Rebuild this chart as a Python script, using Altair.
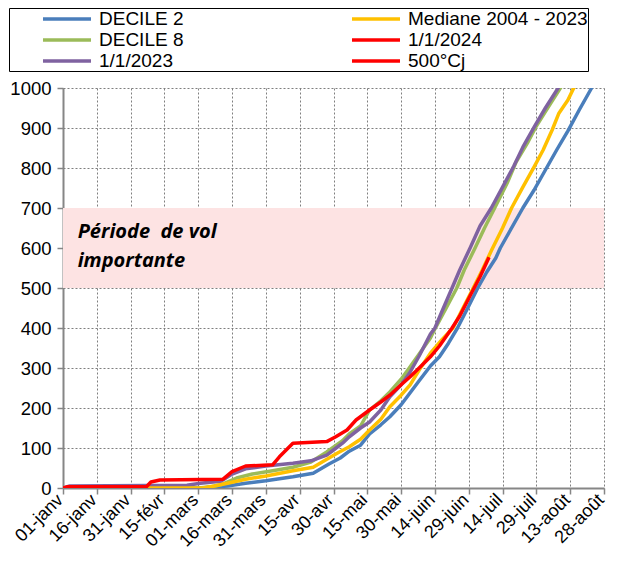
import altair as alt
import pandas as pd

# ---- tick labels (day of year, 2024) ----
tick_days = list(range(0, 241, 15))
tick_labels = ["01-janv", "16-janv", "31-janv", "15-févr", "01-mars", "16-mars",
               "31-mars", "15-avr", "30-avr", "15-mai", "30-mai", "14-juin",
               "29-juin", "14-juil", "29-juil", "13-août", "28-août"]
y_ticks = list(range(0, 1001, 100))

# ---- series (day index, cumulated degree-days) ----
blue_days = [0, 62, 68, 73, 81, 90, 102, 111, 118, 123, 127, 132, 136, 141, 145, 150, 154,
             158, 163, 167, 171, 175, 180, 184, 188, 192, 194, 198, 204, 209, 214, 219, 224,
             229, 234, 235]
blue_vals = [0, 0, 3, 5, 12, 18, 28, 37, 60, 75, 92, 107, 135, 158, 178, 208, 238,
             268, 305, 328, 362, 400, 455, 500, 540, 575, 600, 640, 700, 745, 795, 845, 893,
             945, 995, 1005]

green_days = [0, 60, 66, 70, 77, 84, 93, 102, 110, 117, 124, 127, 132, 136, 141, 145, 150,
              154, 158, 163, 165, 170, 174.7, 178, 182.8, 187, 191.5, 197, 201, 206, 210,
              215, 221]
green_vals = [0, 0, 3, 8, 25, 35, 43, 52, 65, 90, 118, 135, 155, 195, 218, 240, 272,
              303, 335, 375, 398, 450, 500, 545, 600, 650, 700, 762, 815, 862, 905,
              950, 1003]

purple_days = [0, 3, 55, 61, 70, 75, 81, 90, 102, 110, 117, 120, 124, 127, 132, 136, 141,
               145, 150, 154, 158, 163, 165, 168, 172.6, 176, 180.6, 185, 190, 195, 200,
               204, 209, 214, 220]
purple_vals = [0, 5, 7, 12, 17, 35, 48, 55, 62, 68, 82, 95, 112, 128, 150, 165, 195,
               228, 258, 290, 330, 385, 400, 440, 500, 545, 600, 655, 700, 752, 805,
               852, 902, 950, 1003]

median_days = [0, 62, 67, 73, 81, 90, 102, 111, 118, 122, 127, 132, 136, 141, 145, 150,
               154, 158, 163, 168, 173, 177, 182, 186, 190, 195, 199, 204, 209, 213, 217,
               220, 224, 227]
median_vals = [0, 0, 5, 12, 22, 30, 43, 52, 75, 88, 103, 122, 145, 172, 203, 232,
               258, 295, 337, 370, 400, 445, 500, 545, 593, 650, 700, 752, 803, 845, 895,
               937, 970, 1005]

red_days = [0, 2, 37, 39, 43, 71, 75, 81, 93, 96, 99, 102, 117, 121, 126, 130, 136, 141,
            145, 150, 154, 158, 163, 167, 172.6, 176, 181, 185, 189]
red_vals = [0, 3, 3, 15, 20, 22, 41, 55, 58, 78, 95, 112, 116, 128, 145, 170, 195, 215,
            232, 258, 278, 300, 328, 355, 400, 430, 485, 528, 577]

# legend order (filled column by column)
series_names = ["DECILE 2", "DECILE 8", "1/1/2023", "Mediane 2004 - 2023", "1/1/2024", "500°Cj"]
series_colors = ["#4A7EBB", "#9BBB59", "#7F62A0", "#FFC000", "#FF0000", "#FF0000"]
series_widths = [3.5, 3.5, 3.5, 3.5, 6.5, 3]

band_low, band_high = 500, 700
band_text = ["Période\u00a0 de vol", "importante"]
band_text_day = [6.5, 6.5]
band_text_val = [641, 568]

rows = []
for name, d, v in [("DECILE 2", blue_days, blue_vals),
                   ("DECILE 8", green_days, green_vals),
                   ("1/1/2023", purple_days, purple_vals),
                   ("Mediane 2004 - 2023", median_days, median_vals),
                   ("1/1/2024", red_days, red_vals)]:
    for i, (dd, vv) in enumerate(zip(d, v)):
        rows.append({"series": name, "day": dd, "value": vv, "idx": i})
df = pd.DataFrame(rows)

label_expr = "[" + ",".join("'" + t + "'" for t in tick_labels) + "][round(datum.value/15)]"

x_scale = alt.Scale(domain=[0, 240], nice=False, zero=False)
y_scale = alt.Scale(domain=[0, 1000], nice=False)

x_axis = alt.Axis(values=tick_days, labelExpr=label_expr, labelAngle=-45, labelFontSize=18,
                  labelFont="Liberation Sans", labelColor="black", title=None,
                  grid=True, gridDash=[2, 2], gridColor="#7F7F7F", gridWidth=1,
                  domainColor="#868686", domainWidth=2, tickColor="#868686", tickSize=6,
                  tickWidth=1.5, labelPadding=3, labelAlign="right", labelBaseline="middle",
                  labelOverlap=False, labelFlush=False, tickCount=17, labelOffset=-3)
y_axis = alt.Axis(values=y_ticks, labelFontSize=18.5, format="d",
                  labelFont="Liberation Sans", labelColor="black", title=None,
                  grid=True, gridDash=[2, 2], gridColor="#7F7F7F", gridWidth=1,
                  domainColor="#868686", domainWidth=2, tickColor="#868686", tickSize=6,
                  tickWidth=1.5, labelPadding=6, labelFlush=False, labelOverlap=False,
                  tickCount=11)

band = alt.Chart(pd.DataFrame({"x": [0], "x2": [240], "y": [band_low], "y2": [band_high]})).mark_rect(
    color="#FDE3E3").encode(
    x=alt.X("x:Q", scale=x_scale, axis=x_axis), x2="x2:Q",
    y=alt.Y("y:Q", scale=y_scale, axis=y_axis), y2="y2:Q")

legend = alt.Legend(orient="none", legendX=-54, legendY=-80, columns=2, title=None,
                    direction="vertical",
                    symbolType="M-2.667,0H2.667", symbolSize=324, labelFontSize=19,
                    labelFont="Liberation Sans", labelColor="black",
                    strokeColor="black", fillColor="white", padding=0,
                    columnPadding=134, rowPadding=0, symbolOffset=47, labelOffset=21,
                    labelLimit=400)

lines = alt.Chart(df).mark_line(clip=True, strokeJoin="round", strokeCap="butt").encode(
    x=alt.X("day:Q", scale=x_scale, axis=x_axis),
    y=alt.Y("value:Q", scale=y_scale, axis=y_axis),
    color=alt.Color("series:N", scale=alt.Scale(domain=series_names, range=series_colors),
                    legend=legend),
    strokeWidth=alt.StrokeWidth("series:N", scale=alt.Scale(domain=series_names, range=series_widths),
                                legend=legend),
    order="idx:Q")

txt = alt.Chart(pd.DataFrame({"t": band_text, "d": band_text_day, "v": band_text_val})).mark_text(
    align="left", baseline="middle", font="Open Sans", fontSize=20, fontStyle="italic",
    fontWeight="bold", color="black").encode(
    x=alt.X("d:Q", scale=x_scale, axis=x_axis), y=alt.Y("v:Q", scale=y_scale, axis=y_axis),
    text="t:N")

chart = alt.layer(band, lines, txt).properties(
    width=541, height=400,
    padding={"left": 55, "top": 80, "right": 5, "bottom": 64},
    autosize=alt.AutoSizeParams(type="none"),
    background="white"
).configure_view(stroke=None)

chart.save("out.html", embed_options={"renderer": "svg", "actions": False})
